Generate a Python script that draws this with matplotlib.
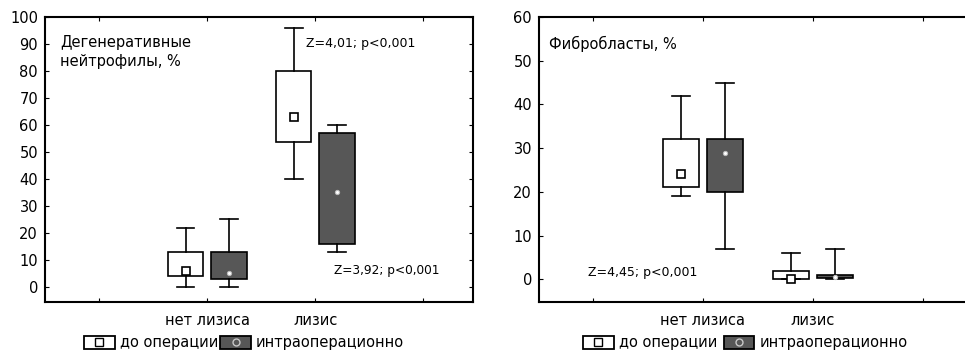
import matplotlib
matplotlib.use("Agg")
import matplotlib.pyplot as plt
from matplotlib.patches import Patch
from matplotlib.lines import Line2D
from matplotlib.legend_handler import HandlerTuple

plt.rcParams['font.family'] = ['DejaVu Sans']

# categories and series
groups = ['нет лизиса', 'лизис']
series = ['до операции', 'интраоперационно']

# left panel: degenerative neutrophils, % (center, q1, q3, min, max)
neu_before = {'c': [6, 63], 'q1': [4, 53.5], 'q3': [13, 80], 'lo': [0, 40], 'hi': [22, 96]}
neu_intra = {'c': [5, 35], 'q1': [3, 16], 'q3': [13, 57], 'lo': [0, 13], 'hi': [25, 60]}

# right panel: fibroblasts, %
fib_before = {'c': [24, 0], 'q1': [21, 0], 'q3': [32, 2], 'lo': [19, 0], 'hi': [42, 6]}
fib_intra = {'c': [29, 0.5], 'q1': [20, 0.3], 'q3': [32, 1], 'lo': [7, 0], 'hi': [45, 7]}

grey = '#575757'


def stats(d):
    out = []
    for i in range(len(d['c'])):
        out.append({'med': d['c'][i], 'mean': d['c'][i], 'q1': d['q1'][i], 'q3': d['q3'][i],
                    'whislo': d['lo'][i], 'whishi': d['hi'][i], 'fliers': []})
    return out


def panel(ax, before, intra, ylim, yticks, xlim):
    pos = [1, 2]
    ax.bxp(stats(before), positions=[p - 0.2 for p in pos], widths=0.33, patch_artist=True,
           showmeans=True, showfliers=False,
           boxprops=dict(facecolor='white', edgecolor='black', linewidth=1.2),
           whiskerprops=dict(color='black', linewidth=1.2),
           capprops=dict(color='black', linewidth=1.2),
           medianprops=dict(linewidth=0),
           meanprops=dict(marker='s', markersize=6, markerfacecolor='white',
                          markeredgecolor='black', markeredgewidth=1.2))
    ax.bxp(stats(intra), positions=[p + 0.2 for p in pos], widths=0.33, patch_artist=True,
           showmeans=True, showfliers=False,
           boxprops=dict(facecolor=grey, edgecolor='black', linewidth=1.2),
           whiskerprops=dict(color='black', linewidth=1.2),
           capprops=dict(color='black', linewidth=1.2),
           medianprops=dict(linewidth=0),
           meanprops=dict(marker='o', markersize=3, markerfacecolor='white',
                          markeredgecolor='#bbbbbb', markeredgewidth=0.8))
    ax.set_xlim(*xlim)
    ax.set_ylim(*ylim)
    ax.set_yticks(yticks)
    ax.set_xticks([0, 1, 2, 3])
    ax.set_xticklabels(['', groups[0], groups[1], ''])
    ax.tick_params(axis='both', direction='in', length=3, labelsize=10.5,
                   top=True, right=True)
    ax.tick_params(axis='x', pad=8, labelsize=10.5)
    ax.tick_params(axis='y', pad=5)
    for s in ax.spines.values():
        s.set_linewidth(1.5)


def legend(fig, x, y, gap):
    h1 = (Patch(facecolor='white', edgecolor='black', linewidth=1.3),
          Line2D([], [], marker='s', markersize=6, markerfacecolor='white',
                 markeredgecolor='black', linestyle='none'))
    h2 = (Patch(facecolor=grey, edgecolor='black', linewidth=1.3),
          Line2D([], [], marker='o', markersize=5, markerfacecolor='none',
                 markeredgecolor='#c8c8c8', linestyle='none'))
    fig.legend([h1, h2], series, handler_map={tuple: HandlerTuple(ndivide=1, pad=0)},
               loc='center left', bbox_to_anchor=(x, y), ncol=2, frameon=False,
               fontsize=10.5, handlelength=2.1, handleheight=1.0, handletextpad=0.35,
               columnspacing=gap, borderaxespad=0, borderpad=0)


fig = plt.figure(figsize=(9.65, 3.54), dpi=100)

ax1 = fig.add_axes([45 / 965, 52 / 354, 428 / 965, 285 / 354])
panel(ax1, neu_before, neu_intra, (-5.6, 100), range(0, 101, 10), (-0.5, 3.46))
ax1.text(15 / 428, 0.877, 'Дегенеративные\nнейтрофилы, %', transform=ax1.transAxes,
         fontsize=10.5, va='center', ha='left', linespacing=1.4)
ax1.text(2.42, 90, 'Z=4,01; p<0,001', fontsize=9, ha='center', va='center')
ax1.text(2.66, 6, 'Z=3,92; p<0,001', fontsize=8.7, ha='center', va='center')

ax2 = fig.add_axes([539 / 965, 52 / 354, 430 / 965, 285 / 354])
panel(ax2, fib_before, fib_intra, (-5.2, 60), range(0, 61, 10), (-0.49, 3.42))
ax2.text(10 / 430, 0.905, 'Фибробласты, %', transform=ax2.transAxes, fontsize=10.5,
         va='center', ha='left')
ax2.text(0.45, 1.5, 'Z=4,45; p<0,001', fontsize=9, ha='center', va='center')

legend(fig, 84 / 965, 11 / 354, 0.15)
legend(fig, 583 / 965, 11 / 354, 0.45)

fig.savefig('out.png', dpi=100)
